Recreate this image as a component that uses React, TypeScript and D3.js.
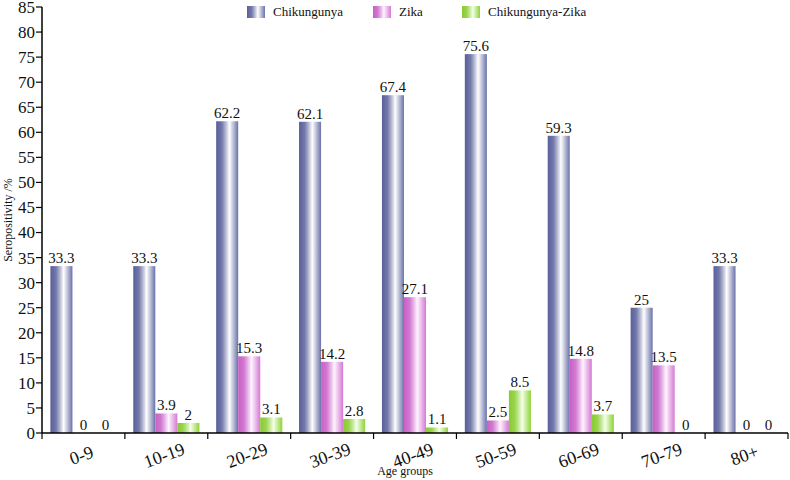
import * as d3 from "d3";
import React from "react";

const ageGroups = ["0-9", "10-19", "20-29", "30-39", "40-49", "50-59", "60-69", "70-79", "80+"];
const seriesNames = ["Chikungunya", "Zika", "Chikungunya-Zika"];
const chikungunya = [33.3, 33.3, 62.2, 62.1, 67.4, 75.6, 59.3, 25, 33.3];
const zika = [0, 3.9, 15.3, 14.2, 27.1, 2.5, 14.8, 13.5, 0];
const coInfection = [0, 2, 3.1, 2.8, 1.1, 8.5, 3.7, 0, 0];
const yTicks = d3.range(0, 86, 5);

const W = 790;
const H = 480;
const margin = { top: 7, right: 2, bottom: 47, left: 42 };
const FONT = "Liberation Serif, Times New Roman, Times, serif";

const gradients = [
  { id: "g-chik", dark: "#59609a", mid: "#ffffff", end: "#6a72a8" },
  { id: "g-zika", dark: "#c860c8", mid: "#fff4ff", end: "#d47ad4" },
  { id: "g-co", dark: "#86cc2e", mid: "#f4ffe8", end: "#8fd23a" },
];

const App = () => {
  const series = [chikungunya, zika, coInfection];
  const innerW = W - margin.left - margin.right;
  const innerH = H - margin.top - margin.bottom;

  const x = d3.scaleBand<string>().domain(ageGroups).range([0, innerW]).padding(0);
  const xSub = d3
    .scaleBand<string>()
    .domain(seriesNames)
    .range([0, x.bandwidth()])
    .paddingInner(0)
    .paddingOuter(0.38);
  const y = d3.scaleLinear().domain([0, 85]).range([innerH, 0]);

  const boundaries = ageGroups.map((g) => x(g)!).concat([innerW]);

  return (
    <svg
      width={W}
      height={H}
      style={{ position: "absolute", left: 0, top: 0, background: "#fff", fontFamily: FONT }}
    >
      <defs>
        {gradients.map((g) => (
          <linearGradient key={g.id} id={g.id} x1="0" x2="1" y1="0" y2="0">
            <stop offset="0%" stopColor={g.dark} />
            <stop offset="25%" stopColor={g.dark} stopOpacity={0.85} />
            <stop offset="60%" stopColor={g.mid} />
            <stop offset="100%" stopColor={g.end} />
          </linearGradient>
        ))}
      </defs>
      <g transform={`translate(${margin.left},${margin.top})`}>
        {/* bars */}
        {ageGroups.map((g, i) => (
          <g key={g} transform={`translate(${x(g)},0)`}>
            {series.map((vals, s) => {
              const v = vals[i];
              const bx = xSub(seriesNames[s])!;
              return (
                <g key={s}>
                  {v > 0 && (
                    <rect
                      x={bx}
                      y={y(v)}
                      width={xSub.bandwidth()}
                      height={innerH - y(v)}
                      fill={`url(#${gradients[s].id})`}
                    />
                  )}
                  <text
                    x={bx + xSub.bandwidth() / 2}
                    y={y(v) - 3}
                    textAnchor="middle"
                    fontSize={15}
                    fill="#111"
                    style={{ fontFamily: FONT }}
                  >
                    {v}
                  </text>
                </g>
              );
            })}
          </g>
        ))}

        {/* y axis */}
        <line x1={0} x2={0} y1={0} y2={innerH} stroke="#000" strokeWidth={1.5} />
        {yTicks.map((t) => (
          <g key={t} transform={`translate(0,${y(t)})`}>
            <line x1={-6} x2={0} stroke="#000" strokeWidth={1.2} />
            <text x={-7} dy="0.35em" textAnchor="end" fontSize={17} fill="#111" style={{ fontFamily: FONT }}>
              {t}
            </text>
          </g>
        ))}
        <text
          transform={`translate(${-30},${innerH / 2}) rotate(-90)`}
          textAnchor="middle"
          fontSize={12}
          fill="#111"
          style={{ fontFamily: FONT }}
        >
          Seropositivity /%
        </text>

        {/* x axis */}
        <line x1={0} x2={innerW} y1={innerH} y2={innerH} stroke="#000" strokeWidth={1.5} />
        {boundaries.map((b, i) => (
          <line key={i} x1={b} x2={b} y1={innerH} y2={innerH + 6} stroke="#000" strokeWidth={1.2} />
        ))}
        {ageGroups.map((g) => (
          <text
            key={g}
            transform={`translate(${x(g)! + x.bandwidth() / 2},${innerH + 28}) rotate(-20)`}
            textAnchor="middle"
            fontSize={18}
            fill="#111"
            style={{ fontFamily: FONT }}
          >
            {g}
          </text>
        ))}
        <text
          x={innerW / 2 - 10}
          y={innerH + 42}
          textAnchor="middle"
          fontSize={12}
          fill="#111"
          style={{ fontFamily: FONT }}
        >
          Age groups
        </text>
      </g>

      {/* legend */}
      <g>
        {seriesNames.map((n, i) => {
          const lx = [247, 373, 462][i];
          return (
            <g key={n} transform={`translate(${lx},6)`}>
              <rect width={18} height={12} fill={`url(#${gradients[i].id})`} />
              <text x={26} y={10} fontSize={13} fill="#111" style={{ fontFamily: FONT }}>
                {n}
              </text>
            </g>
          );
        })}
      </g>
    </svg>
  );
};

export default App;
